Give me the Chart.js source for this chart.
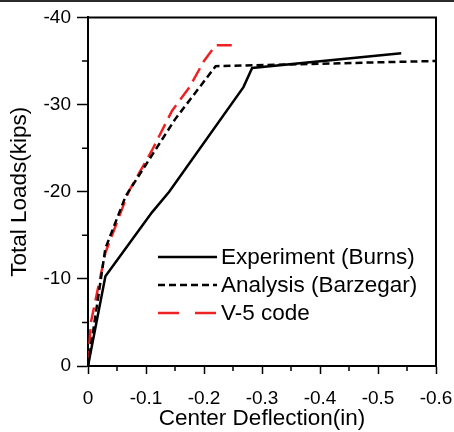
<!DOCTYPE html>
<html>
<head>
<meta charset="utf-8">
<script src="https://cdn.jsdelivr.net/npm/chart.js@4"></script>
<style>
  html, body { margin: 0; padding: 0; background: #fff; }
  #wrap { width: 454px; height: 432px; position: relative; }
</style>
</head>
<body>
<div id="wrap"><canvas id="chart"></canvas></div>
<script>
// Load–deflection curves (deflection in inches, load in kips)
const expDeflection = [0, -0.03, -0.11, -0.14, -0.268, -0.283, -0.54];
const expLoad = [0, -10.3, -17.6, -20, -32, -34.2, -35.9];

const anaDeflection = [0, -0.03, -0.065, -0.15, -0.22, -0.6];
const anaLoad = [0, -13.5, -19.5, -28.3, -34.4, -35];

const v5Deflection = [0, -0.005, -0.03, -0.07, -0.11, -0.145, -0.175, -0.2, -0.22, -0.25];
const v5Load = [0, -5, -13, -20, -24.7, -29.3, -32, -35, -36.8, -36.8];

const seriesNames = ['Experiment (Burns)', 'Analysis (Barzegar)', 'V-5 code'];

const toPoints = (xs, ys) => xs.map((x, i) => ({ x: x, y: ys[i] }));

const FONT = 'Arial, "Liberation Sans", sans-serif';

// frame, minor ticks, legend
const decorations = {
    id: 'decorations',
    beforeDraw: (chart) => {
        const ctx = chart.ctx;
        ctx.save();
        ctx.fillStyle = '#2b2b2b';
        ctx.fillRect(0, 0, chart.width, 2);
        ctx.restore();
    },
    afterDraw: (chart) => {
        const ctx = chart.ctx;
        const area = chart.chartArea;
        const xs = chart.scales.x;
        const ys = chart.scales.y;
        ctx.save();
        ctx.strokeStyle = '#000';
        ctx.lineWidth = 2;
        // top and right edges of the box
        ctx.beginPath();
        ctx.moveTo(area.left, area.top);
        ctx.lineTo(area.right, area.top);
        ctx.lineTo(area.right, area.bottom);
        ctx.stroke();

        // minor ticks
        ctx.lineWidth = 1.5;
        ctx.beginPath();
        for (let v = -0.05; v > -0.6; v -= 0.1) {
            const px = xs.getPixelForValue(v);
            ctx.moveTo(px, area.bottom);
            ctx.lineTo(px, area.bottom + 5);
        }
        for (let v = -5; v > -40; v -= 10) {
            const py = ys.getPixelForValue(v);
            ctx.moveTo(area.left, py);
            ctx.lineTo(area.left - 6, py);
        }
        ctx.stroke();

        // legend
        const styles = chart.data.datasets;
        const lx = 158, lw = 59, rowY = [257, 285, 313];
        ctx.font = '22.5px ' + FONT;
        ctx.textBaseline = 'middle';
        ctx.fillStyle = '#000';
        styles.forEach((ds, i) => {
            ctx.strokeStyle = ds.borderColor;
            ctx.lineWidth = ds.borderWidth;
            ctx.setLineDash(i === 2 ? [21, 16] : (ds.borderDash || []));
            ctx.beginPath();
            ctx.moveTo(lx, rowY[i]);
            ctx.lineTo(lx + lw, rowY[i]);
            ctx.stroke();
            ctx.setLineDash([]);
            ctx.fillText(seriesNames[i], 221, rowY[i] + 1);
        });
        ctx.restore();
    }
};

new Chart(document.getElementById('chart'), {
    type: 'line',
    data: {
        datasets: [
            {
                label: seriesNames[0],
                data: toPoints(expDeflection, expLoad),
                borderColor: '#000',
                borderWidth: 2.5,
                pointRadius: 0,
                tension: 0
            },
            {
                label: seriesNames[1],
                data: toPoints(anaDeflection, anaLoad),
                borderColor: '#000',
                borderWidth: 2.5,
                borderDash: [7, 4],
                pointRadius: 0,
                tension: 0
            },
            {
                label: seriesNames[2],
                data: toPoints(v5Deflection, v5Load),
                borderColor: '#ee2222',
                borderWidth: 2.5,
                borderDash: [15, 7],
                pointRadius: 0,
                tension: 0
            }
        ]
    },
    options: {
        responsive: true,
        maintainAspectRatio: false,
        animation: false,
        layout: { padding: { top: 16, right: 18, left: 0, bottom: 0 } },
        plugins: {
            legend: { display: false },
            tooltip: { enabled: false }
        },
        scales: {
            x: {
                type: 'linear',
                min: -0.6,
                max: 0,
                reverse: true,
                afterFit: (scale) => {
                    scale.height = 66;
                    scale.paddingLeft = 0;
                    scale.paddingRight = 0;
                },
                border: { display: true, color: '#000', width: 2 },
                grid: { drawOnChartArea: false, color: '#000', tickLength: 8, tickWidth: 1.5 },
                ticks: {
                    stepSize: 0.1,
                    padding: 13,
                    color: '#000',
                    font: { family: FONT, size: 19 },
                    callback: (v) => v === 0 ? '0' : Number(v.toFixed(1)).toString()
                },
                title: {
                    display: true,
                    text: 'Center Deflection(in)',
                    color: '#000',
                    font: { family: FONT, size: 22.5 },
                    padding: { top: 0, bottom: 0 }
                }
            },
            y: {
                type: 'linear',
                min: -40,
                max: 0,
                reverse: true,
                afterFit: (scale) => { scale.width = 88; },
                border: { display: true, color: '#000', width: 2 },
                grid: { drawOnChartArea: false, color: '#000', tickLength: 11, tickWidth: 1.5 },
                ticks: {
                    stepSize: 10,
                    padding: 6,
                    color: '#000',
                    font: { family: FONT, size: 19 }
                },
                title: {
                    display: true,
                    text: 'Total Loads(kips)',
                    color: '#000',
                    font: { family: FONT, size: 22.5 },
                    padding: { top: 6, bottom: 0 }
                }
            }
        }
    },
    plugins: [decorations]
});
</script>
</body>
</html>
